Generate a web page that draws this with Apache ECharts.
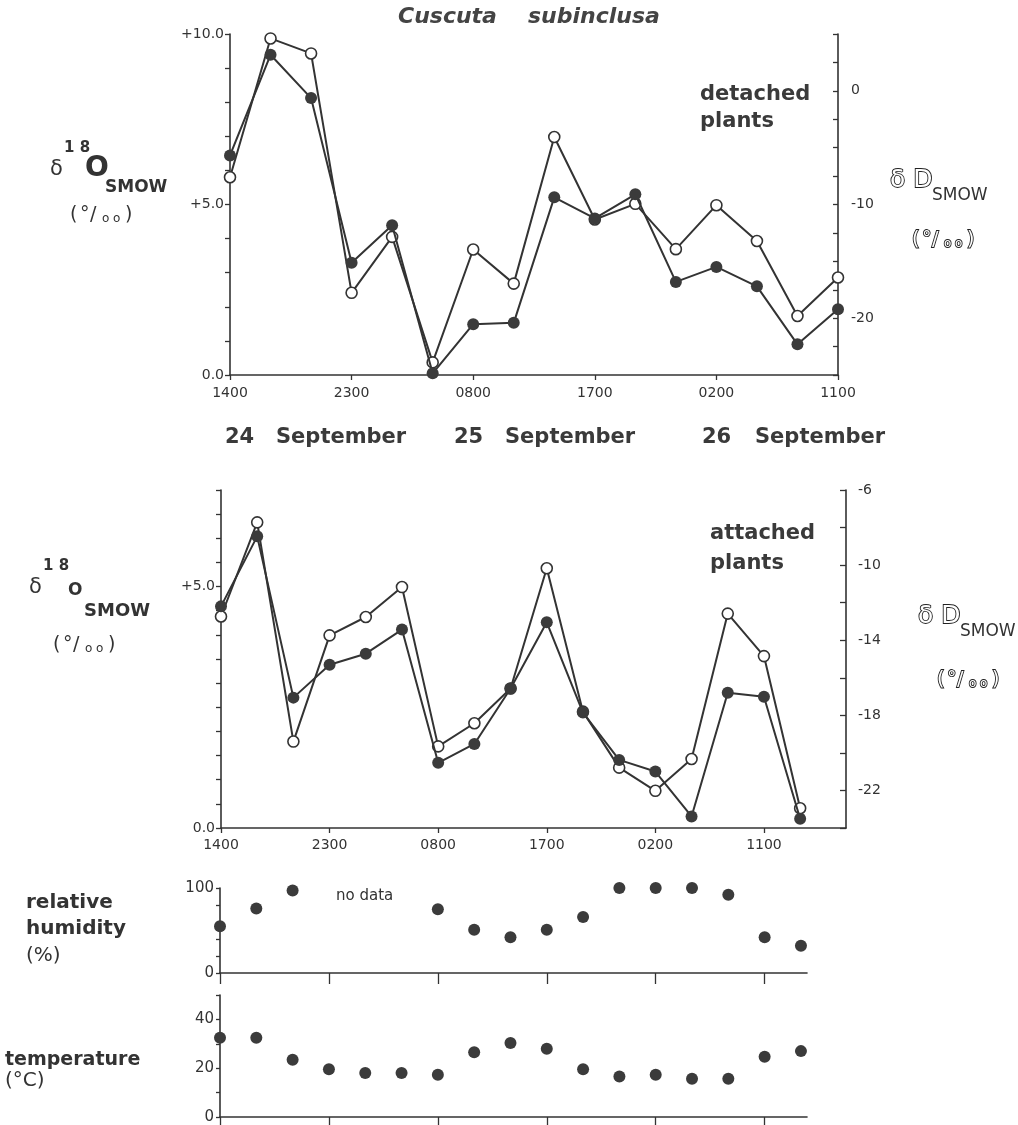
<!DOCTYPE html>
<html><head><meta charset="utf-8">
<script src="https://cdn.jsdelivr.net/npm/echarts@6/dist/echarts.min.js"></script>
<style>html,body{margin:0;padding:0;background:#fff}#c{width:1018px;height:1125px}</style>
</head><body><div id="c"></div>
<script>
// ---- data (hours after 1400, 24 September) ----
const hoursDetached = [0,3,6,9,12,15,18,21,24,27,30,33,36,39,42,45];
const detachedFilled = [6.44,9.39,8.12,3.29,4.39,0.05,1.49,1.53,5.21,4.59,5.30,2.73,3.17,2.60,0.90,1.93];
const detachedOpen   = [5.80,9.87,9.43,2.41,4.05,0.37,3.68,2.68,6.98,4.56,5.02,3.69,4.98,3.93,1.73,2.86];
const hoursAttached = [0,3,6,9,12,15,18,21,24,27,30,33,36,39,42,45,48];
const attachedFilled = [4.59,6.04,2.70,3.38,3.61,4.11,1.35,1.74,2.89,4.26,2.39,1.41,1.17,0.24,2.80,2.72,0.19];
const attachedOpen   = [4.38,6.33,1.79,3.99,4.37,4.99,1.69,2.17,2.89,5.38,2.41,1.25,0.77,1.43,4.44,3.56,0.41];
const humidity    = [55,76,97,null,null,null,75,51,42,51,66,100,100,100,92,42,32];
const temperature = [32.5,32.5,23.5,19.6,18,18,17.3,26.5,30.3,28,19.6,16.6,17.3,15.7,15.7,24.7,27];
const timeTickHours  = [0,9,18,27,36,45];
const timeTickLabels = ['1400','2300','0800','1700','0200','1100'];
const dayLabels = ['24','25','26'];
const monthLabel = 'September';

const INK = '#333';
const FONT = '"DejaVu Sans", "Liberation Sans", sans-serif';

function timeLabel(v){ const i = timeTickHours.indexOf(Math.round(v)); return i>=0 ? timeTickLabels[i] : ''; }

function xAx(grid, max, labels, tickLen, margin){
  return {type:'value', gridIndex:grid, min:0, max:max,
    axisLine:{onZero:false, lineStyle:{color:INK, width:1.6}},
    splitLine:{show:false},
    axisTick:{show:true, customValues:timeTickHours, length:tickLen, lineStyle:{color:INK, width:1.3}},
    axisLabel:{show:labels, customValues:timeTickHours, formatter:timeLabel, color:INK, fontFamily:FONT, fontSize:14, margin:margin||10}};
}
function yAx(grid, pos, min, max, interval, fmt, tickInside, tickLen, margin, fs){
  return {type:'value', gridIndex:grid, position:pos, min:min, max:max, interval:interval,
    axisLine:{show:true, onZero:false, lineStyle:{color:INK, width:1.6}},
    splitLine:{show:false},
    axisTick:{show:true, inside:tickInside, length:tickLen, lineStyle:{color:INK, width:1.3}},
    axisLabel:{formatter:fmt, color:INK, fontFamily:FONT, fontSize:fs||14, margin:margin}};
}
function lineSeries(xi, yi, xs, ys, filled){
  return {type:'line', xAxisIndex:xi, yAxisIndex:yi, data:xs.map((h,i)=>[h, ys[i]]),
    symbol:'circle', symbolSize: filled?12:11, showAllSymbol:true, z: filled?4:3,
    lineStyle:{color:INK, width:2},
    itemStyle: filled ? {color:'#3b3b3b', borderWidth:0, opacity:1} : {color:'#fff', borderColor:INK, borderWidth:1.6, opacity:1},
    emphasis:{disabled:true}, animation:false};
}
function dots(xi, yi, ys){
  const d = [];
  hoursAttached.forEach((h,i)=>{ if (ys[i] !== null) d.push([h, ys[i]]); });
  return {type:'scatter', xAxisIndex:xi, yAxisIndex:yi, data:d, symbol:'circle', symbolSize:12,
    itemStyle:{color:'#3b3b3b', opacity:1}, emphasis:{disabled:true}, animation:false};
}

// ---- text helpers ----
function T(x, y, text, font, extra){
  return {type:'text', x:x, y:y, silent:true, z:10,
    style:Object.assign({text:text, font:font, fill:INK, align:'left', verticalAlign:'middle'}, extra||{})};
}
const OUTLINE = {fill:'#fff', stroke:'#222', lineWidth:1.8};
function permil(x, y, s, outlined){
  const ex = outlined ? OUTLINE : {};
  const f = s + 'px ' + FONT, fs = Math.round(s*0.62) + 'px ' + FONT;
  return [T(x, y, '(', f, ex), T(x+0.53*s, y, '°', f, ex), T(x+1.05*s, y, '/', f, ex),
          T(x+1.68*s, y+0.18*s, 'o', fs, ex), T(x+2.26*s, y+0.18*s, 'o', fs, ex), T(x+2.9*s, y, ')', f, ex)];
}
function d18O(x, y, big){
  const els = [
    T(x, y, 'δ', '21px ' + FONT),
    T(x + 14, y - 22, '1 8', 'bold 15px ' + FONT),
  ];
  if (big){
    els.push(T(x + 35, y - 1, 'O', 'bold 28px ' + FONT));
    els.push(T(x + 55, y + 18, 'SMOW', 'bold 17px ' + FONT));
  } else {
    els.push(T(x + 39, y + 3, 'O', 'bold 17px ' + FONT));
    els.push(T(x + 55, y + 23, 'SMOW', 'bold 18px ' + FONT));
  }
  return els;
}
function dD(x, y){
  return [T(x, y, 'δ D', '25px ' + FONT, OUTLINE),
          T(x + 42, y + 16, 'SMOW', '17px ' + FONT)];
}

const graphics = [].concat(
  [T(398, 17, 'Cuscuta', 'italic bold 22px ' + FONT, {fill:'#444'}),
   T(528, 17, 'subinclusa', 'italic bold 22px ' + FONT, {fill:'#444'}),
   T(700, 95, 'detached', 'bold 21px ' + FONT, {fill:'#3a3a3a'}),
   T(700, 122, 'plants', 'bold 21px ' + FONT, {fill:'#3a3a3a'}),
   T(710, 534, 'attached', 'bold 21px ' + FONT, {fill:'#3a3a3a'}),
   T(710, 564, 'plants', 'bold 21px ' + FONT, {fill:'#3a3a3a'}),
   T(225, 438, dayLabels[0], 'bold 21px ' + FONT, {fill:'#3a3a3a'}),
   T(276, 438, monthLabel, 'bold 21px ' + FONT, {fill:'#3a3a3a'}),
   T(454, 438, dayLabels[1], 'bold 21px ' + FONT, {fill:'#3a3a3a'}),
   T(505, 438, monthLabel, 'bold 21px ' + FONT, {fill:'#3a3a3a'}),
   T(702, 438, dayLabels[2], 'bold 21px ' + FONT, {fill:'#3a3a3a'}),
   T(755, 438, monthLabel, 'bold 21px ' + FONT, {fill:'#3a3a3a'}),
   T(26, 903, 'relative', 'bold 20px ' + FONT),
   T(26, 929, 'humidity', 'bold 20px ' + FONT),
   T(26, 956, '(%)', '20px ' + FONT),
   T(5, 1060, 'temperature', 'bold 19px ' + FONT),
   T(5, 1081, '(°C)', '20px ' + FONT),
   T(336, 896, 'no data', '15px ' + FONT)],
  d18O(50, 170, true), permil(70, 215, 19, false),
  d18O(29, 588, false), permil(53, 645, 19, false),
  dD(890, 180), permil(912, 240, 19, true),
  dD(918, 616), permil(937, 680, 19, true)
);

const chart = echarts.init(document.getElementById('c'), null, {renderer:'canvas'});
chart.setOption({
  backgroundColor:'#fff',
  animation:false,
  grid:[
    {left:230, top:34, width:608, height:341},
    {left:221, top:490, width:625, height:338},
    {left:220, top:888, width:587, height:85},
    {left:220, top:995, width:587, height:122}
  ],
  xAxis:[
    xAx(0, 45, true, 5, 11),
    xAx(1, 51.8, true, 5, 10),
    xAx(2, 48.5, false, 11),
    xAx(3, 48.5, false, 9)
  ],
  yAxis:[
    yAx(0, 'left', 0, 10, 1, v => v===0?'0.0':(v===5?'+5.0':(v===10?'+10.0':'')), false, 5, 6),
    yAx(0, 'right', -25, 5, 2.5, v => (v===0||v===-10||v===-20)?String(v):'', true, 5, 13),
    yAx(1, 'left', 0, 7, 0.5, v => v===0?'0.0':(v===5?'+5.0':''), false, 5, 6),
    yAx(1, 'right', -24, -6, 2, v => ((v+6)%4===0)?String(v):'', true, 6, 12),
    yAx(2, 'left', 0, 100, 20, v => (v===0||v===100)?String(v):'', false, 4, 6, 15),
    yAx(3, 'left', 0, 50, 10, v => (v===0||v===20||v===40)?String(v):'', false, 4, 6, 15)
  ],
  series:[
    lineSeries(0, 0, hoursDetached, detachedOpen, false),
    lineSeries(0, 0, hoursDetached, detachedFilled, true),
    lineSeries(1, 2, hoursAttached, attachedOpen, false),
    lineSeries(1, 2, hoursAttached, attachedFilled, true),
    dots(2, 4, humidity),
    dots(3, 5, temperature)
  ],
  graphic: graphics
});
</script></body></html>
